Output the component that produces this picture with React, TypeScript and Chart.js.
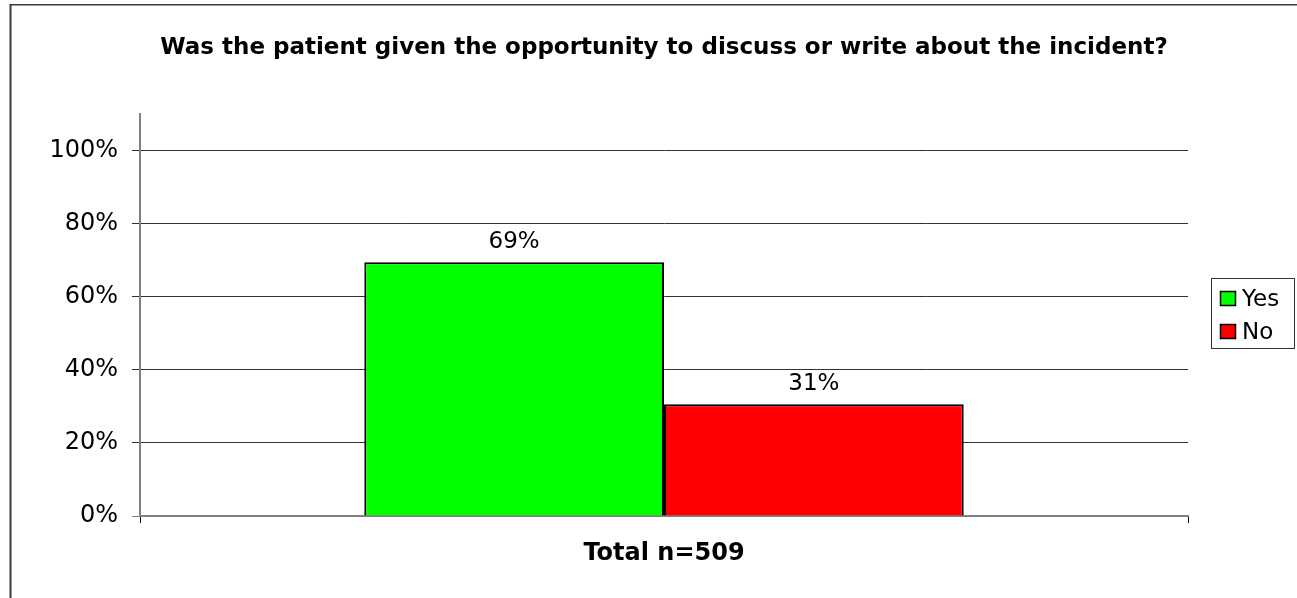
import React, { useEffect, useRef } from "react";
import { Chart, registerables } from "chart.js";

Chart.register(...registerables);

const TITLE = "Was the patient given the opportunity to discuss or write about the incident?";
const categories = ["Total n=509"];
const seriesNames = ["Yes", "No"];
const yesValues = [69.4];
const noValues = [30.6];
const seriesColors = ["#00FF00", "#FF0000"];
const yTickValues = [0, 20, 40, 60, 80, 100];
const Y_MAX = 110;

const FONT = "'DejaVu Sans', Verdana, sans-serif";

export default function App() {
  const ref = useRef<HTMLCanvasElement>(null);

  useEffect(() => {
    if (!ref.current) return;

    const framePlugin = {
      id: "frame",
      beforeDraw(chart: any) {
        const ctx = chart.ctx;
        ctx.save();
        ctx.fillStyle = "#ffffff";
        ctx.fillRect(0, 0, chart.width, chart.height);
        ctx.strokeStyle = "#3a3a3a";
        ctx.lineWidth = 2;
        ctx.beginPath();
        ctx.moveTo(10.5, 4);
        ctx.lineTo(10.5, chart.height + 5);
        ctx.stroke();
        ctx.lineWidth = 1.5;
        ctx.beginPath();
        ctx.moveTo(10, 4.75);
        ctx.lineTo(chart.width + 5, 4.75);
        ctx.stroke();
        ctx.restore();
      },
    };

    const valueLabelPlugin = {
      id: "valueLabels",
      afterDatasetsDraw(chart: any) {
        const ctx = chart.ctx;
        ctx.save();
        ctx.font = `23px ${FONT}`;
        ctx.fillStyle = "#000";
        ctx.textAlign = "center";
        ctx.textBaseline = "alphabetic";
        chart.data.datasets.forEach((ds: any, di: number) => {
          const meta = chart.getDatasetMeta(di);
          meta.data.forEach((bar: any, i: number) => {
            const v = ds.data[i];
            ctx.fillText(Math.round(v) + "%", bar.x, bar.y - 14);
          });
        });
        ctx.restore();
      },
    };

    const boxedLegendPlugin = {
      id: "boxedLegend",
      afterDraw(chart: any) {
        const ctx = chart.ctx;
        const left = chart.chartArea.right + 23;
        const top = 278;
        const w = 83;
        const h = 70;
        ctx.save();
        ctx.strokeStyle = "#333";
        ctx.lineWidth = 1;
        ctx.strokeRect(left + 0.5, top + 0.5, w, h);
        ctx.font = `23px ${FONT}`;
        ctx.textAlign = "left";
        ctx.textBaseline = "alphabetic";
        chart.data.datasets.forEach((ds: any, di: number) => {
          const sy = top + 13 + di * 33;
          ctx.fillStyle = ds.backgroundColor;
          ctx.fillRect(left + 9, sy, 16, 15);
          ctx.strokeStyle = "#000";
          ctx.lineWidth = 1.5;
          ctx.strokeRect(left + 9.5, sy + 0.5, 15, 14);
          ctx.fillStyle = "#000";
          ctx.fillText(ds.label, left + 31, sy + 15);
        });
        ctx.restore();
      },
    };

    const chart = new Chart(ref.current, {
      type: "bar",
      data: {
        labels: categories,
        datasets: [
          {
            label: seriesNames[0],
            data: yesValues,
            backgroundColor: seriesColors[0],
            borderColor: "#000",
            borderWidth: 2,
            barPercentage: 1,
            categoryPercentage: 0.572,
          },
          {
            label: seriesNames[1],
            data: noValues,
            backgroundColor: seriesColors[1],
            borderColor: "#000",
            borderWidth: 2,
            barPercentage: 1,
            categoryPercentage: 0.572,
          },
        ],
      },
      options: {
        responsive: true,
        maintainAspectRatio: false,
        animation: false,
        layout: { padding: { left: 10, right: 109, top: 0, bottom: 0 } },
        plugins: {
          legend: { display: false },
          tooltip: { enabled: false },
          title: {
            display: true,
            fullSize: false,
            text: TITLE,
            color: "#000",
            font: { family: FONT, size: 23, weight: "bold", lineHeight: 1.2 },
            padding: { top: 34, bottom: 52.4 },
          },
        },
        scales: {
          x: {
            grid: {
              display: true,
              drawOnChartArea: false,
              drawTicks: true,
              tickLength: 7,
              color: "#000",
              lineWidth: 1,
              offset: true,
            },
            border: { display: true, color: "#808080", width: 2 },
            ticks: {
              color: "#000",
              font: { family: FONT, size: 24, weight: "bold" },
              padding: 16,
            },
            afterFit: (s: any) => {
              s.height = 82;
            },
          },
          y: {
            min: 0,
            max: Y_MAX,
            afterBuildTicks: (s: any) => {
              s.ticks = yTickValues.map((v) => ({ value: v }));
            },
            ticks: {
              color: "#000",
              font: { family: FONT, size: 24 },
              padding: 14,
              callback: (v: any) => v + "%",
            },
            grid: {
              color: (c: any) => (c.tick && c.tick.value === 0 ? "#808080" : "#333"),
              lineWidth: 1,
              tickLength: 8,
              drawTicks: true,
            },
            border: { display: true, color: "#808080", width: 2 },
            afterFit: (s: any) => {
              s.width = 130;
            },
          },
        },
      },
      plugins: [framePlugin, valueLabelPlugin, boxedLegendPlugin],
    });

    return () => chart.destroy();
  }, []);

  return (
    <div style={{ position: "fixed", left: 0, top: 0, width: 1297, height: 598, background: "#fff" }}>
      <canvas ref={ref} />
    </div>
  );
}
